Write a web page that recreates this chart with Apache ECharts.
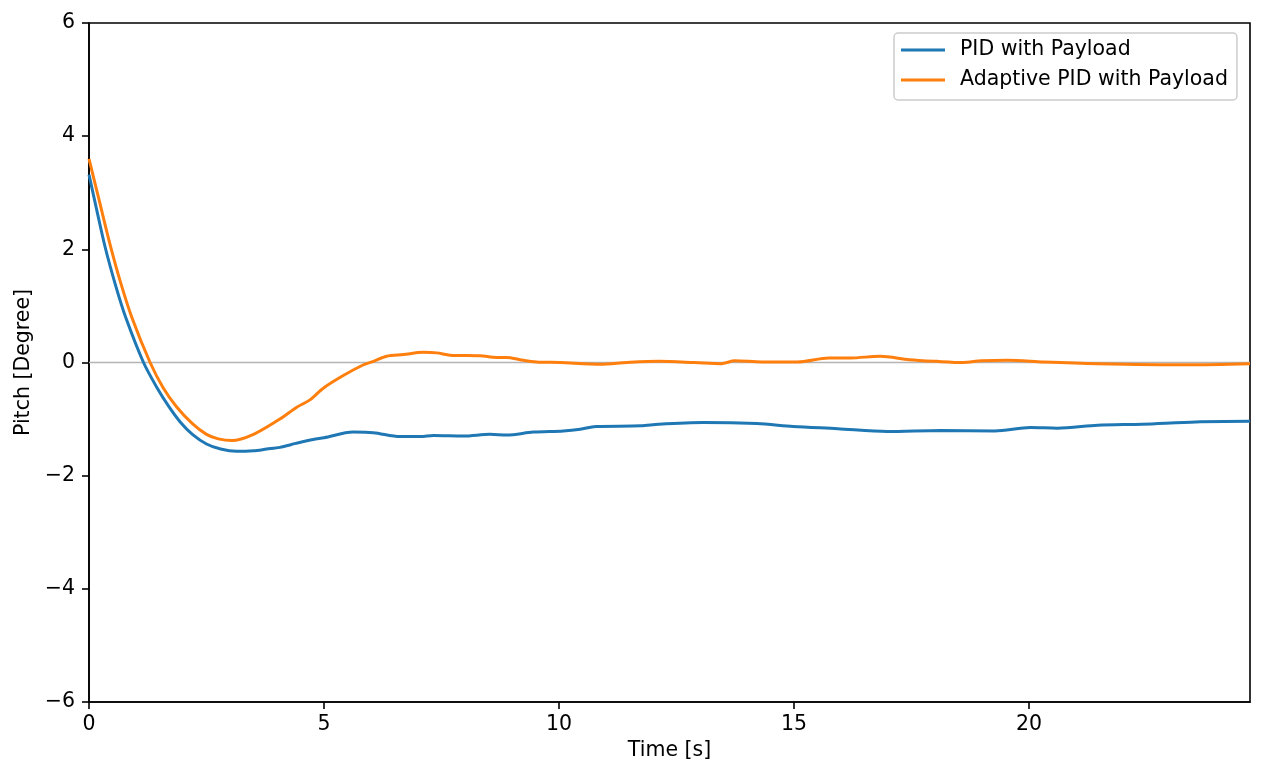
<!DOCTYPE html>
<html>
<head>
<meta charset="utf-8">
<script src="https://cdn.jsdelivr.net/npm/echarts@6/dist/echarts.min.js"></script>
<style>
  html, body { margin: 0; padding: 0; background: #fff; }
  #chart { width: 1266px; height: 780px; }
</style>
</head>
<body>
<div id="chart"></div>
<script>
// PID with Payload
const timePid = [0, 0.15, 0.34, 0.57, 0.78, 1.16, 1.45, 1.70, 1.94, 2.2, 2.5, 2.8, 3.14, 3.5, 3.78, 4.06, 4.4, 4.77, 5.0, 5.62, 6.05, 6.62, 7.05, 7.33, 7.97, 8.53, 8.89, 9.45, 10.09, 10.45, 10.78, 11.74, 12.12, 13.07, 14.21, 14.98, 15.93, 16.98, 18.12, 19.27, 20.03, 20.6, 21.46, 22.41, 23.55, 24.7]
const pitchPid = [3.32, 2.75, 2.05, 1.35, 0.80, 0.0, -0.45, -0.78, -1.05, -1.27, -1.44, -1.53, -1.57, -1.56, -1.53, -1.50, -1.43, -1.36, -1.33, -1.23, -1.24, -1.31, -1.31, -1.29, -1.30, -1.27, -1.28, -1.23, -1.21, -1.18, -1.13, -1.12, -1.09, -1.06, -1.08, -1.13, -1.17, -1.22, -1.20, -1.21, -1.15, -1.16, -1.11, -1.09, -1.05, -1.04]

// Adaptive PID with Payload
const timeAdaptive = [0, 0.23, 0.45, 0.67, 0.91, 1.30, 1.58, 1.87, 2.2, 2.5, 2.75, 3.04, 3.5, 4.06, 4.42, 4.7, 4.99, 5.41, 5.84, 6.05, 6.33, 6.69, 7.11, 7.4, 7.68, 8.32, 8.67, 8.89, 9.17, 9.52, 10.02, 10.88, 11.45, 12.12, 12.88, 13.45, 13.74, 14.31, 15.07, 15.74, 16.2, 16.83, 17.45, 18.03, 18.6, 18.98, 19.55, 20.31, 21.46, 23.36, 24.7]
const pitchAdaptive = [3.6, 2.82, 2.08, 1.42, 0.80, 0.0, -0.45, -0.79, -1.08, -1.27, -1.35, -1.38, -1.27, -1.0, -0.79, -0.66, -0.45, -0.23, -0.04, 0.02, 0.11, 0.14, 0.18, 0.17, 0.13, 0.12, 0.09, 0.09, 0.05, 0.01, 0.0, -0.03, 0.0, 0.02, 0.0, -0.02, 0.03, 0.01, 0.01, 0.08, 0.08, 0.11, 0.05, 0.02, 0.0, 0.03, 0.04, 0.01, -0.02, -0.04, -0.02]

const xMax = 24.7
const yTicks = [-6, 6, 2]

const font = 'DejaVu Sans'
const fontSize = 20.5

const pair = (ts, vs) => ts.map((t, i) => [t, vs[i]])
const minus = v => (v < 0 ? '\u2212' + Math.abs(v) : String(v))

const chart = echarts.init(document.getElementById('chart'))

chart.setOption({
  animation: false,
  backgroundColor: '#fff',
  textStyle: { fontFamily: font, color: '#000' },
  grid: {
    left: 89, right: 16, top: 23, bottom: 78,
    show: true, borderColor: '#000', borderWidth: 1.6, backgroundColor: 'transparent'
  },
  legend: {
    left: 894, top: 33,
    orient: 'vertical',
    padding: [6, 9, 9, 7],
    itemGap: 8,
    itemWidth: 44,
    itemHeight: 3,
    icon: 'rect',
    backgroundColor: '#fff',
    borderColor: '#cccccc',
    borderWidth: 1.5,
    borderRadius: 4,
    textStyle: { fontFamily: font, fontSize: fontSize, color: '#000', lineHeight: 22, padding: [0, 0, 0, 10] },
    data: ['PID with Payload', 'Adaptive PID with Payload']
  },
  xAxis: {
    type: 'value',
    min: 0, max: xMax, interval: 5,
    name: 'Time [s]',
    nameLocation: 'middle',
    nameGap: 38,
    nameTextStyle: { fontFamily: font, fontSize: fontSize, color: '#000' },
    axisLine: { show: true, onZero: false, lineStyle: { color: '#000', width: 1.6 } },
    axisTick: { show: true, inside: false, length: 7, lineStyle: { color: '#000', width: 1.6 } },
    axisLabel: {
      margin: 12, fontFamily: font, fontSize: fontSize, color: '#000',
      showMaxLabel: false,
      formatter: v => (v % 5 === 0 ? minus(v) : '')
    },
    splitLine: { show: false }
  },
  yAxis: {
    type: 'value',
    min: yTicks[0], max: yTicks[1], interval: yTicks[2],
    name: 'Pitch [Degree]',
    nameLocation: 'middle',
    nameGap: 53,
    nameTextStyle: { fontFamily: font, fontSize: fontSize, color: '#000' },
    axisLine: { show: true, lineStyle: { color: '#000', width: 1.6 } },
    axisTick: { show: true, inside: false, length: 7, lineStyle: { color: '#000', width: 1.6 } },
    axisLabel: { margin: 14, fontFamily: font, fontSize: fontSize, color: '#000', formatter: minus },
    splitLine: { show: false }
  },
  series: [
    {
      name: 'zero',
      type: 'line',
      data: [[0, 0], [xMax, 0]],
      showSymbol: false,
      silent: true,
      lineStyle: { color: '#b5b5b5', width: 1.6 },
      z: 1
    },
    {
      name: 'PID with Payload',
      type: 'line',
      data: pair(timePid, pitchPid),
      showSymbol: false,
      smooth: 0.3,
      color: '#1f77b4',
      lineStyle: { color: '#1f77b4', width: 3 },
      z: 2
    },
    {
      name: 'Adaptive PID with Payload',
      type: 'line',
      data: pair(timeAdaptive, pitchAdaptive),
      showSymbol: false,
      smooth: 0.3,
      color: '#ff7f0e',
      lineStyle: { color: '#ff7f0e', width: 3 },
      z: 3
    }
  ]
})
</script>
</body>
</html>
